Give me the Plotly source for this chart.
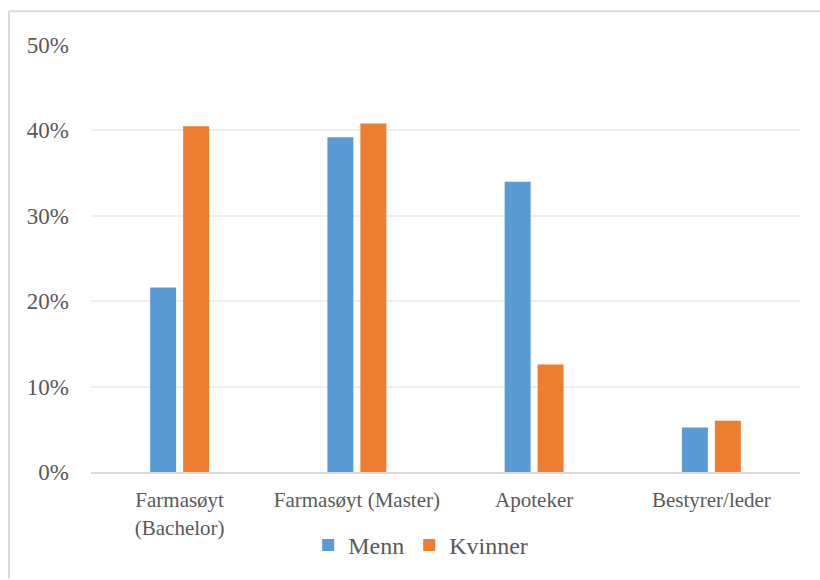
import plotly.graph_objects as go

categories = ["Farmasøyt<br>(Bachelor)", "Farmasøyt (Master)", "Apoteker", "Bestyrer/leder"]
menn = [21.6, 39.2, 34.0, 5.2]
kvinner = [40.5, 40.8, 12.6, 6.0]
y_ticks = [0, 10, 20, 30, 40, 50]
y_tick_labels = [f"{v}%" for v in y_ticks]

FONT = "Liberation Serif, Times New Roman, serif"
TXT = "#595959"

fig = go.Figure()
fig.add_trace(go.Bar(x=categories, y=menn, name="Menn", marker=dict(color="#5B9BD5", line=dict(width=0))))
fig.add_trace(go.Bar(x=categories, y=kvinner, name="Kvinner", marker=dict(color="#ED7D31", line=dict(width=0))))

W, H = 820, 580
ml, mr, mt, mb = 91, 20, 45, 105
pw, ph = W - ml - mr, H - mt - mb

def px_x(p):
    return (p - ml) / pw

def px_y(p):
    return 1 - (p - mt) / ph

# thin frame on the top and left edges
border = dict(color="#D9D9D9", width=2)
fig.add_shape(type="line", xref="paper", yref="paper",
              x0=px_x(9), x1=px_x(822), y0=px_y(11), y1=px_y(11), line=border)
fig.add_shape(type="line", xref="paper", yref="paper",
              x0=px_x(9), x1=px_x(9), y0=px_y(11), y1=px_y(582), line=border)

fig.update_layout(
    width=W, height=H,
    margin=dict(l=ml, r=mr, t=mt, b=mb),
    paper_bgcolor="white", plot_bgcolor="white",
    barmode="group", bargap=0.628, bargroupgap=0.212,
    font=dict(family=FONT, color=TXT, size=21),
    showlegend=True,
    legend=dict(orientation="h", x=0.465, xanchor="center", y=px_y(549), yanchor="middle",
                font=dict(family=FONT, size=24, color=TXT), itemwidth=30,
                bgcolor="rgba(0,0,0,0)"),
    xaxis=dict(showgrid=False, showline=True, linecolor="#D9D9D9", linewidth=2,
               ticks="", tickfont=dict(family=FONT, size=21, color=TXT),
               ticklabelstandoff=8, fixedrange=True),
    yaxis=dict(range=[0, 50], tickmode="array", tickvals=y_ticks, ticktext=y_tick_labels,
               showgrid=True, gridcolor="#EFEFEF", gridwidth=1.5, zeroline=False, showline=False,
               ticks="", tickfont=dict(family=FONT, size=23, color=TXT),
               ticklabelstandoff=21, fixedrange=True),
)

fig.write_html("out.html")
